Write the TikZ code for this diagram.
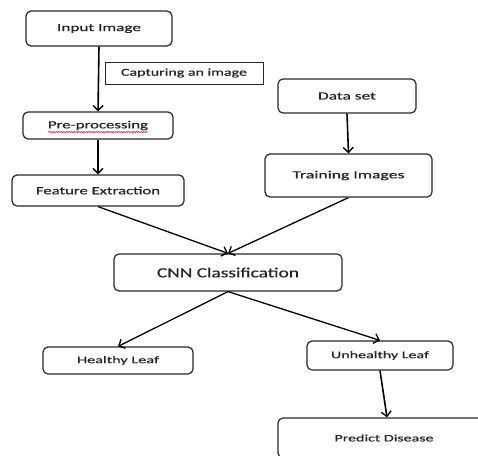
\documentclass[tikz,border=0pt]{standalone}
\usepackage{fontspec}
\setmainfont{Carlito}
\usetikzlibrary{arrows.meta,decorations.pathmorphing}
\definecolor{txt}{RGB}{35,35,45}
\definecolor{edge}{RGB}{40,40,40}
\newcommand\lbl[3]{\resizebox{#1}{\height}{\fontsize{#2}{#2}\selectfont\addfontfeature{FakeBold=0.35}#3}}
\tikzset{
  box/.style={draw=edge, line width=1.2pt, rounded corners=5pt, text=txt, inner sep=0pt},
  capbox/.style={draw=edge, line width=0.9pt, text=txt, inner sep=0pt},
  arr/.style={draw=black, line width=1.6pt, -{Straight Barb[length=5pt,width=10pt,line width=1.4pt]}},
  ln/.style={draw=black, line width=1.3pt, -{Straight Barb[length=5pt,width=10pt,line width=1.3pt]}}
}
\begin{document}
\begin{tikzpicture}[x=1pt,y=-1pt]
\useasboundingbox (0,0) rectangle (478,455);
\clip (0,0) rectangle (478,455);
\fill[white] (0,0) rectangle (478,455);
\node[box, minimum width=146pt, minimum height=35pt] (in) at (99,28.5) {\lbl{84pt}{11}{Input Image}};
\node[capbox, minimum width=158pt, minimum height=22pt] (cap) at (184,73) {\lbl{126pt}{10.5}{Capturing an image}};
\node[box, minimum width=150pt, minimum height=27pt] (pre) at (98,125.5) {\lbl{100pt}{11}{Pre-processing}};
\node[box, minimum width=172pt, minimum height=31pt] (feat) at (98,190.5) {\lbl{124pt}{11}{Feature Extraction}};
\node[box, minimum width=138pt, minimum height=34pt] (data) at (347,96) {\lbl{58pt}{11}{Data set}};
\node[box, minimum width=167pt, minimum height=43pt] (train) at (348.5,175.5) {\lbl{112pt}{11}{Training Images}};
\node[box, minimum width=228pt, minimum height=37pt] (cnn) at (228,272.5) {\lbl{142pt}{14}{CNN Classification}};
\node[box, minimum width=150pt, minimum height=27pt] (healthy) at (118,360.5) {\lbl{82pt}{10}{Healthy Leaf}};
\node[box, minimum width=146pt, minimum height=29pt] (unhealthy) at (380,355.5) {\lbl{98pt}{10}{Unhealthy Leaf}};
\node[box, minimum width=212pt, minimum height=40pt] (pred) at (384,438) {\lbl{99pt}{10}{Predict Disease}};
\coordinate (sqa) at (48,132);
\coordinate (sqb) at (148,132);
\draw[red, line width=0.5pt, decorate, decoration={snake, segment length=2.5pt, amplitude=0.6pt}] (sqa) -- (sqb);
\draw[arr] (in.south) -- (pre.north);
\draw[arr] (pre.south) -- (feat.north);
\draw[arr] (data.south) -- (train.north);
\draw[ln] (feat.south) -- (cnn.north);
\draw[ln] (train.south) -- (cnn.north);
\draw[ln] (cnn.south) -- (healthy.north);
\draw[ln] (cnn.south) -- (unhealthy.north);
\draw[arr] (unhealthy.south) -- ([xshift=3pt]pred.north);
\end{tikzpicture}
\end{document}
